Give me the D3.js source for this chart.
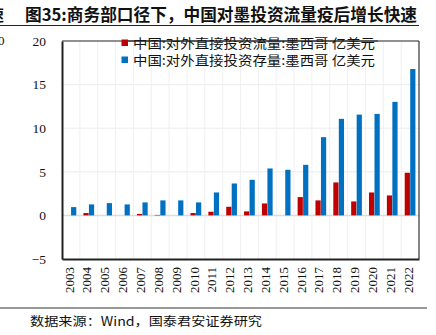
<!DOCTYPE html>
<html><head><meta charset="utf-8">
<script src="https://cdn.jsdelivr.net/npm/d3@7"></script>
<style>
html,body{margin:0;padding:0;background:#fff;}
svg{display:block;}
</style></head>
<body>
<svg id="c" width="436" height="335"></svg>
<script>
const years = ["2003","2004","2005","2006","2007","2008","2009","2010","2011","2012","2013","2014","2015","2016","2017","2018","2019","2020","2021","2022"];
const flowValues = [0.0,0.27,0.0,0.0,0.17,0.05,0.0,0.27,0.42,0.99,0.46,1.37,0.0,2.10,1.72,3.78,1.60,2.63,2.29,4.89];
const stockValues = [0.95,1.26,1.41,1.26,1.49,1.72,1.72,1.49,2.63,3.66,4.08,5.38,5.23,5.80,8.97,11.07,11.56,11.64,13.02,16.79];
const yTicks = [-5,0,5,10,15,20];
const seriesNames = ["中国:对外直接投资流量:墨西哥 亿美元","中国:对外直接投资存量:墨西哥 亿美元"];
const seriesColors = ["#C00000","#0070C0"];
const titleText = "图35:商务部口径下，中国对墨投资流量疫后增长快速";
const sourceText = "数据来源：Wind，国泰君安证券研究";

const svg = d3.select("#c");
const L = 62, R = 419, T = 41, B = 259;

const x = d3.scaleBand().domain(years).range([L, R]).paddingInner(0).paddingOuter(0);
const xs = d3.scaleBand().domain(["flow","stock"]).range([0, x.bandwidth()]).paddingInner(0.05).paddingOuter(0.65);
const y = d3.scaleLinear().domain([-5, 20]).range([B, T]);

// partial text from neighbouring column (cut off in the reference too)
svg.append("text").attr("x", -12).attr("y", 21).style("font-family", "Noto Sans CJK SC").style("font-weight", "bold")
  .style("font-size", "16px").attr("fill", "#111").text("速");
svg.append("text").attr("x", -2).attr("y", 45).style("font-family", "Liberation Serif")
  .style("font-size", "13px").attr("fill", "#111").text("0");

// title
svg.append("text").attr("x", 25).attr("y", 21).style("font-family", "Noto Sans CJK SC").style("font-weight", "bold")
  .style("font-size", "16.5px").attr("fill", "#111").attr("textLength", 392).attr("lengthAdjust", "spacingAndGlyphs").text(titleText);
svg.append("line").attr("x1", 0).attr("x2", 419).attr("y1", 25.5).attr("y2", 25.5).attr("stroke", "#222").attr("stroke-width", 1.2);

// grid
const g = svg.append("g");
g.selectAll("line.hg").data(yTicks.filter(d => d !== 0 && d !== -5 && d !== 20)).join("line")
  .attr("x1", L).attr("x2", R).attr("y1", d => y(d)).attr("y2", d => y(d))
  .attr("stroke", "#ececec").attr("stroke-width", 1);
g.selectAll("line.vg").data(years.slice(1)).join("line")
  .attr("x1", d => x(d)).attr("x2", d => x(d)).attr("y1", T).attr("y2", B)
  .attr("stroke", "#f0f0f0").attr("stroke-width", 1);

// zero line
g.append("line").attr("x1", L).attr("x2", R).attr("y1", y(0)).attr("y2", y(0))
  .attr("stroke", "#dcdcdc").attr("stroke-width", 1.5);

// bars
const bars = svg.append("g");
bars.selectAll("rect.f").data(years).join("rect")
  .attr("x", d => x(d) + xs("flow")).attr("width", xs.bandwidth())
  .attr("y", (d, i) => y(Math.max(0, flowValues[i])))
  .attr("height", (d, i) => Math.abs(y(flowValues[i]) - y(0)))
  .attr("fill", seriesColors[0]);
bars.selectAll("rect.s").data(years).join("rect")
  .attr("x", d => x(d) + xs("stock")).attr("width", xs.bandwidth())
  .attr("y", (d, i) => y(Math.max(0, stockValues[i])))
  .attr("height", (d, i) => Math.abs(y(stockValues[i]) - y(0)))
  .attr("fill", seriesColors[1]);

// frame
svg.append("line").attr("x1", L).attr("x2", R).attr("y1", T).attr("y2", T).attr("stroke", "#222").attr("stroke-width", 1);
svg.append("line").attr("x1", R).attr("x2", R).attr("y1", T).attr("y2", B).attr("stroke", "#333").attr("stroke-width", 1.2);

// axes
const yAxis = d3.axisLeft(y).tickValues(yTicks).tickSize(0).tickPadding(16);
const ya = svg.append("g").attr("transform", `translate(${L},0)`).call(yAxis);
ya.select(".domain").attr("stroke", "#222").attr("stroke-width", 2);
ya.selectAll("text").style("font-family", "'Liberation Serif', 'DejaVu Serif', serif").style("font-size", "13.5px").attr("fill", "#111");

const xAxis = d3.axisBottom(x).tickSize(0).tickPadding(0);
const xa = svg.append("g").attr("transform", `translate(0,${B})`).call(xAxis);
xa.select(".domain").attr("stroke", "#222").attr("stroke-width", 2);
xa.selectAll("text").style("font-family", "'Liberation Serif', 'DejaVu Serif', serif").style("font-size", "13px").attr("fill", "#111")
  .attr("transform", "rotate(-90)").attr("text-anchor", "end").attr("dy", "0.32em")
  .attr("x", -8).attr("y", -1.5);

// legend
const lg = svg.append("g");
seriesNames.forEach((name, i) => {
  const yy = 43 + i * 17;
  lg.append("rect").attr("x", 121.5).attr("y", yy - 3.5).attr("width", 6.5).attr("height", 6.5).attr("fill", seriesColors[i]);
  lg.append("text").attr("x", 133).attr("y", yy).attr("dy", "0.35em")
    .style("font-family", "Noto Sans CJK SC").style("font-size", "13px").attr("fill", "#111")
    .attr("textLength", 242).attr("lengthAdjust", "spacingAndGlyphs").text(name);
});
// top border crossing the first legend line
svg.append("line").attr("x1", 128).attr("x2", 378).attr("y1", T).attr("y2", T).attr("stroke", "#222").attr("stroke-width", 1);

// footer
svg.append("line").attr("x1", 0).attr("x2", 427).attr("y1", 308).attr("y2", 308).attr("stroke", "#333").attr("stroke-width", 1);
svg.append("text").attr("x", 30).attr("y", 326).style("font-family", "Noto Sans CJK SC")
  .style("font-size", "12.5px").attr("fill", "#111").attr("textLength", 232).attr("lengthAdjust", "spacingAndGlyphs").text(sourceText);
</script>
</body></html>
